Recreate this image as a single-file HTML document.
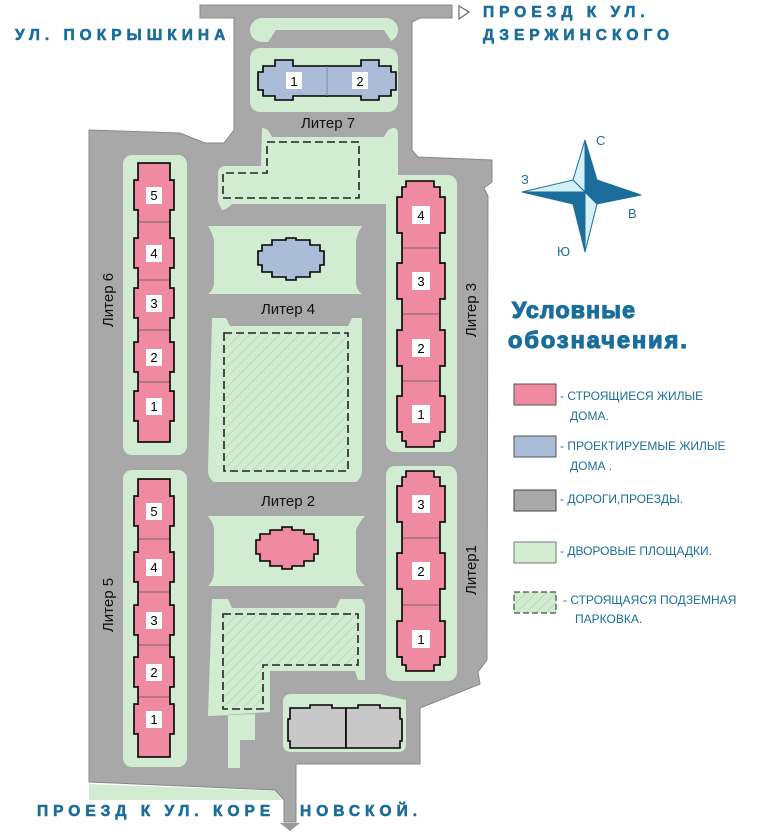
<!DOCTYPE html>
<html><head><meta charset="utf-8"><style>
body{margin:0;background:#fff;}
svg{display:block;font-family:"Liberation Sans",sans-serif;}
.n{font-size:13px;fill:#000;text-anchor:middle}
.lab{font-size:15px;fill:#111;text-anchor:middle}
.st{font-weight:bold;font-size:15.5px;fill:#1b6e9b;letter-spacing:5px;stroke:#1b6e9b;stroke-width:0.6}
.lg{font-size:12px;fill:#1b6e9b}
</style></head><body>
<svg width="768" height="833" viewBox="0 0 768 833">
<defs>
<pattern id="h" width="7" height="7" patternUnits="userSpaceOnUse" patternTransform="rotate(45)">
<rect width="7" height="7" fill="#d2ecd2"/><line x1="0" y1="0" x2="0" y2="7" stroke="#9ccf9c" stroke-width="1"/></pattern>
</defs>
<polygon fill="#a8a8a8" stroke="#888" stroke-width="1" points="200,5 452,5 452,18 420,18 412,22 412,150 418,157 492,160 492,182 484,188 488,196 487,660 478,672 480,684 420,708 420,764 296,764 296,822 284,822 284,800 275,790 89,782 89,130 180,133 205,143 224,143 234,130 234,18 200,18"/>
<polygon fill="#d2ecd2" points="89,784 275,791 282,800 89,800" />
<rect x="250" y="18" width="148" height="24" rx="12" fill="#d2ecd2"/>
<polygon fill="#a8a8a8" points="268,42 276,30 384,30 392,42"/>
<rect x="250" y="48" width="148" height="64" rx="10" fill="#d2ecd2"/>
<path d="M258,72 h5 v-6 h12 v-6 h18 v6 h34 v30 h-34 v4 h-18 v-4 h-12 v-6 h-5 z" fill="#aabcd8" stroke="#000" stroke-width="1.6"/>
<path d="M396,72 h-5 v-6 h-12 v-6 h-18 v6 h-34 v30 h34 v4 h18 v-4 h12 v-6 h5 z" fill="#aabcd8" stroke="#000" stroke-width="1.6"/>
<rect x="300" y="67" width="54" height="28" fill="#aabcd8"/>
<line x1="327" y1="66" x2="327" y2="96" stroke="#889"/>
<rect x="286" y="72" width="16" height="17" fill="#fff"/><text class="n" x="294" y="86">1</text>
<rect x="352" y="72" width="16" height="17" fill="#fff"/><text class="n" x="360" y="86">2</text>
<text class="lab" x="328" y="128">Литер 7</text>
<path d="M262,128 Q268,128 272,137 L384,137 Q388,128 394,128 Q398,128 398,136 L398,200 L394,210 Q388,210 386,204 L232,204 Q226,210 222,210 L218,202 L218,174 Q218,166 226,166 L261,166 Z" fill="#d2ecd2"/>
<polygon points="267,142 359,142 359,198 223,198 223,173 267,173" fill="none" stroke="#222" stroke-width="1.6" stroke-dasharray="8,4"/>
<path d="M208,226 L362,226 Q356,236 356,242 L356,282 Q356,290 362,294 L208,294 Q214,290 214,282 L214,242 Q214,236 208,226Z" fill="#d2ecd2"/>
<path d="M262,245h10v-5h14v-2h10v2h14v5h10v6h4v14h-4v7h-10v5h-14v3h-10v-3h-14v-5h-10v-7h-4v-14h4z" fill="#aabcd8" stroke="#000" stroke-width="1.6"/>
<text class="lab" x="288" y="314">Литер 4</text>
<path d="M212,318 L226,318 L230,326 L348,326 L352,318 L362,318 L362,470 Q362,478 356,482 L214,482 Q208,478 208,470 Z" fill="#d2ecd2"/>
<rect x="224" y="333" width="124" height="138" fill="url(#h)" stroke="#222" stroke-width="1.6" stroke-dasharray="8,4"/>
<text class="lab" x="288" y="506">Литер 2</text>
<path d="M208,516 L365,516 Q358,524 356,530 L356,572 Q358,580 365,586 L208,586 Q214,580 214,572 L214,530 Q214,524 208,516Z" fill="#d2ecd2"/>
<path d="M260,534h10v-4h12v-3h10v3h12v4h10v6h4v14h-4v7h-10v5h-12v3h-10v-3h-12v-5h-10v-7h-4v-14h4z" fill="#f08aa0" stroke="#000" stroke-width="1.6"/>
<path d="M212,599 L228,599 L232,608 L336,608 L340,599 L362,599 L365,605 L365,680 L358,680 L355,671 L270,671 L270,712 L208,716 Z" fill="#d2ecd2"/>
<path d="M208,716 L255,714 L255,740 L240,740 L240,768 L228,768 L228,714 Z" fill="#d2ecd2"/>
<polygon points="223,614 358,614 358,665 263,665 263,709 223,709" fill="url(#h)" stroke="#222" stroke-width="1.6" stroke-dasharray="8,4"/>
<path d="M292,694 L380,694 L406,700 L406,744 Q406,752 398,752 L292,752 Q283,752 283,744 L283,702 Q283,694 292,694Z" fill="#d2ecd2"/>
<path d="M290,708h20v-3h22v3h14v40h-56v-7h-2v-22h2z" fill="#c8c8c8" stroke="#000" stroke-width="1.6"/>
<path d="M346,708h12v-3h22v3h20v11h2v22h-2v7h-54z" fill="#c8c8c8" stroke="#000" stroke-width="1.6"/>
<rect x="123" y="155" width="64" height="300" rx="9" fill="#d2ecd2"/>
<g fill="#f08aa0" stroke="#000" stroke-width="1.6">
<rect x="134" y="180" width="40" height="30"/><rect x="134" y="238" width="40" height="30"/><rect x="134" y="288" width="40" height="30"/><rect x="134" y="342" width="40" height="30"/><rect x="134" y="391" width="40" height="30"/>
<rect x="138" y="163" width="32" height="279"/></g>
<g stroke="#555" stroke-width="0.8"><line x1="139" y1="222" x2="169" y2="222"/><line x1="139" y1="280" x2="169" y2="280"/><line x1="139" y1="330" x2="169" y2="330"/><line x1="139" y1="382" x2="169" y2="382"/></g>
<g fill="#f08aa0"><rect x="135" y="181" width="38" height="28"/><rect x="135" y="239" width="38" height="28"/><rect x="135" y="289" width="38" height="28"/><rect x="135" y="343" width="38" height="28"/><rect x="135" y="392" width="38" height="28"/></g>
<g fill="#fff"><rect x="146" y="187" width="16" height="17"/><rect x="146" y="245" width="16" height="17"/><rect x="146" y="295" width="16" height="17"/><rect x="146" y="349" width="16" height="17"/><rect x="146" y="398" width="16" height="17"/></g>
<text class="n" x="154" y="200">5</text><text class="n" x="154" y="258">4</text><text class="n" x="154" y="308">3</text><text class="n" x="154" y="362">2</text><text class="n" x="154" y="411">1</text>
<text class="lab" transform="translate(113,300) rotate(-90)">Литер 6</text>
<rect x="123" y="470" width="64" height="297" rx="9" fill="#d2ecd2"/>
<g fill="#f08aa0" stroke="#000" stroke-width="1.6">
<rect x="134" y="496" width="40" height="30"/><rect x="134" y="552" width="40" height="30"/><rect x="134" y="605" width="40" height="30"/><rect x="134" y="657" width="40" height="30"/><rect x="134" y="704" width="40" height="30"/>
<rect x="138" y="479" width="32" height="278"/></g>
<g stroke="#555" stroke-width="0.8"><line x1="139" y1="539" x2="169" y2="539"/><line x1="139" y1="592" x2="169" y2="592"/><line x1="139" y1="645" x2="169" y2="645"/><line x1="139" y1="697" x2="169" y2="697"/></g>
<g fill="#f08aa0"><rect x="135" y="497" width="38" height="28"/><rect x="135" y="553" width="38" height="28"/><rect x="135" y="606" width="38" height="28"/><rect x="135" y="658" width="38" height="28"/><rect x="135" y="705" width="38" height="28"/></g>
<g fill="#fff"><rect x="146" y="503" width="16" height="17"/><rect x="146" y="559" width="16" height="17"/><rect x="146" y="612" width="16" height="17"/><rect x="146" y="664" width="16" height="17"/><rect x="146" y="711" width="16" height="17"/></g>
<text class="n" x="154" y="516">5</text><text class="n" x="154" y="572">4</text><text class="n" x="154" y="625">3</text><text class="n" x="154" y="677">2</text><text class="n" x="154" y="724">1</text>
<text class="lab" transform="translate(113,605) rotate(-90)">Литер 5</text>
<rect x="386" y="175" width="71" height="277" rx="9" fill="#d2ecd2"/>
<g fill="#f08aa0" stroke="#000" stroke-width="1.6">
<rect x="397" y="197" width="48" height="36"/><rect x="397" y="263" width="48" height="36"/><rect x="397" y="330" width="48" height="36"/><rect x="397" y="396" width="48" height="36"/>
<path d="M406,181h28v6h6v254h-6v6h-28v-6h-4v-254h4z"/></g>
<g stroke="#555" stroke-width="0.8"><line x1="403" y1="248" x2="439" y2="248"/><line x1="403" y1="314" x2="439" y2="314"/><line x1="403" y1="381" x2="439" y2="381"/></g>
<g fill="#f08aa0"><rect x="398" y="198" width="46" height="34"/><rect x="398" y="264" width="46" height="34"/><rect x="398" y="331" width="46" height="34"/><rect x="398" y="397" width="46" height="34"/></g>
<g fill="#fff"><rect x="412" y="206" width="18" height="18"/><rect x="412" y="272" width="18" height="18"/><rect x="412" y="339" width="18" height="18"/><rect x="412" y="405" width="18" height="18"/></g>
<text class="n" x="421" y="220">4</text><text class="n" x="421" y="286">3</text><text class="n" x="421" y="353">2</text><text class="n" x="421" y="419">1</text>
<text class="lab" transform="translate(476,310) rotate(-90)">Литер 3</text>
<rect x="386" y="466" width="71" height="215" rx="9" fill="#d2ecd2"/>
<g fill="#f08aa0" stroke="#000" stroke-width="1.6">
<rect x="397" y="486" width="48" height="36"/><rect x="397" y="553" width="48" height="36"/><rect x="397" y="621" width="48" height="36"/>
<path d="M406,471h28v6h6v188h-6v6h-28v-6h-4v-188h4z"/></g>
<g stroke="#555" stroke-width="0.8"><line x1="403" y1="538" x2="439" y2="538"/><line x1="403" y1="605" x2="439" y2="605"/></g>
<g fill="#f08aa0"><rect x="398" y="487" width="46" height="34"/><rect x="398" y="554" width="46" height="34"/><rect x="398" y="622" width="46" height="34"/></g>
<g fill="#fff"><rect x="412" y="495" width="18" height="18"/><rect x="412" y="562" width="18" height="18"/><rect x="412" y="630" width="18" height="18"/></g>
<text class="n" x="421" y="509">3</text><text class="n" x="421" y="576">2</text><text class="n" x="421" y="644">1</text>
<text class="lab" transform="translate(476,570) rotate(-90)">Литер1</text>
<polygon points="459,6 469,12 459,19" fill="#fff" stroke="#666" stroke-width="1.2"/>
<polygon points="280,823 300,823 290,831" fill="#999"/>
<text class="st" x="15" y="40">УЛ. ПОКРЫШКИНА</text>
<text class="st" x="483" y="17">ПРОЕЗД К УЛ.</text>
<text class="st" x="483" y="40">ДЗЕРЖИНСКОГО</text>
<text class="st" x="37" y="816">ПРОЕЗД К УЛ. КОРЕ</text>
<text class="st" x="300" y="816">НОВСКОЙ.</text>
<g stroke="#1b6e9b" stroke-width="1">
<polygon points="585,140 573,180 585,192" fill="#d6f0f8"/><polygon points="585,140 597,180 585,192" fill="#1b6e9b"/>
<polygon points="585,252 573,204 585,192" fill="#1b6e9b"/><polygon points="585,252 597,204 585,192" fill="#d6f0f8"/>
<polygon points="522,192 573,180 585,192" fill="#d6f0f8"/><polygon points="522,192 573,204 585,192" fill="#1b6e9b"/>
<polygon points="641,195 597,180 585,192" fill="#1b6e9b"/><polygon points="641,195 597,204 585,192" fill="#1b6e9b"/>
</g>
<g class="lg" style="font-size:13px"><text x="596" y="145">С</text><text x="521" y="184">З</text><text x="628" y="218">В</text><text x="557" y="256">Ю</text></g>
<text x="512" y="318" style="font-weight:900;font-size:23px;fill:#1b6e9b;stroke:#1b6e9b;stroke-width:1.2;letter-spacing:1.2px">Условные</text>
<text x="508" y="348" style="font-weight:900;font-size:23.5px;fill:#1b6e9b;stroke:#1b6e9b;stroke-width:1.2;letter-spacing:2px">обозначения.</text>
<rect x="514" y="384" width="42" height="21" fill="#f08aa0" stroke="#555"/>
<rect x="514" y="436" width="42" height="21" fill="#aabcd8" stroke="#555"/>
<rect x="514" y="490" width="42" height="21" fill="#a8a8a8" stroke="#444"/>
<rect x="514" y="542" width="42" height="21" fill="#d2ecd2" stroke="#777"/>
<rect x="514" y="592" width="42" height="21" fill="url(#h)" stroke="#222" stroke-dasharray="6,3"/>
<g class="lg">
<text x="560" y="400">- СТРОЯЩИЕСЯ ЖИЛЫЕ</text><text x="570" y="420">ДОМА.</text>
<text x="560" y="450">- ПРОЕКТИРУЕМЫЕ ЖИЛЫЕ</text><text x="570" y="470">ДОМА .</text>
<text x="560" y="503">- ДОРОГИ,ПРОЕЗДЫ.</text>
<text x="560" y="555">- ДВОРОВЫЕ ПЛОЩАДКИ.</text>
<text x="563" y="604">- СТРОЯЩАЯСЯ ПОДЗЕМНАЯ</text><text x="575" y="623">ПАРКОВКА.</text>
</g>
</svg>
</body></html>
